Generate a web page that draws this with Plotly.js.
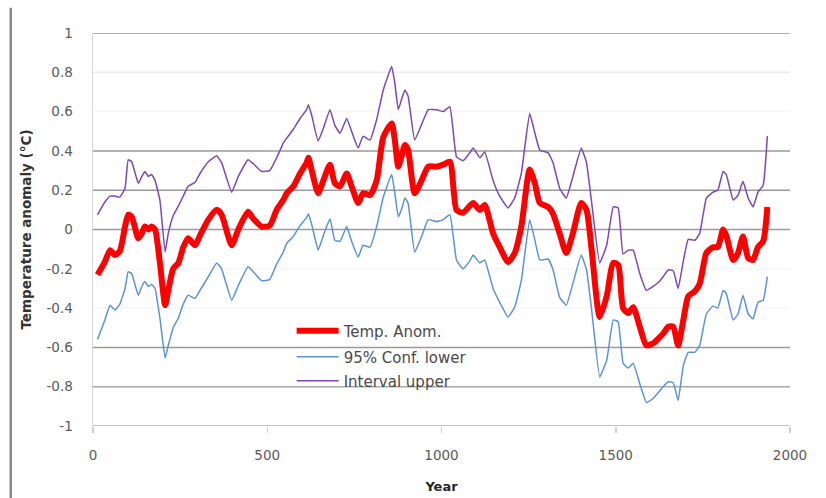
<!DOCTYPE html>
<html>
<head>
<meta charset="utf-8">
<script src="https://cdn.plot.ly/plotly-3.0.1.min.js"></script>
<style>html,body{margin:0;padding:0;background:#fff;}#chart{width:826px;height:498px;}</style>
</head>
<body>
<div id="chart"></div>
<script>
// ---- data ----
const years = [13,34,49,63,77,92,101,111,130,140,149,159,168,178,192,207,216,230,245,259,273,293,307,331,355,369,398,417,445,460,484,507,527,546,556,575,594,613,618,627,646,661,680,694,709,728,742,761,775,795,814,833,857,866,876,885,895,904,923,943,962,986,1005,1024,1043,1062,1081,1091,1110,1124,1148,1167,1191,1210,1229,1253,1268,1282,1306,1320,1339,1358,1377,1401,1416,1430,1454,1474,1493,1507,1521,1536,1550,1569,1588,1607,1622,1636,1651,1665,1679,1694,1708,1727,1741,1760,1779,1793,1808,1817,1837,1851,1865,1880,1894,1908,1923,1935];

const tempAnom = [-0.23,-0.165,-0.105,-0.13,-0.11,0.015,0.075,0.065,-0.045,-0.02,0.015,0.0,0.015,0.0,-0.17,-0.385,-0.31,-0.2,-0.17,-0.09,-0.045,-0.08,-0.03,0.05,0.1,0.075,-0.08,0.0,0.09,0.055,0.015,0.02,0.1,0.15,0.185,0.22,0.285,0.34,0.365,0.305,0.185,0.25,0.33,0.235,0.22,0.285,0.22,0.135,0.185,0.175,0.25,0.47,0.54,0.455,0.32,0.37,0.43,0.405,0.185,0.25,0.32,0.32,0.33,0.345,0.1,0.085,0.12,0.135,0.1,0.125,-0.02,-0.09,-0.165,-0.12,0.015,0.305,0.235,0.135,0.115,0.08,-0.02,-0.12,-0.02,0.135,0.1,-0.09,-0.445,-0.34,-0.17,-0.18,-0.4,-0.425,-0.395,-0.495,-0.59,-0.58,-0.555,-0.53,-0.495,-0.495,-0.59,-0.46,-0.34,-0.315,-0.275,-0.12,-0.09,-0.09,0.0,-0.03,-0.155,-0.12,-0.035,-0.145,-0.155,-0.09,-0.06,0.115];

const confLower = [-0.56,-0.46,-0.385,-0.41,-0.38,-0.3,-0.215,-0.225,-0.335,-0.29,-0.265,-0.29,-0.28,-0.3,-0.45,-0.655,-0.59,-0.5,-0.45,-0.38,-0.335,-0.35,-0.31,-0.24,-0.17,-0.2,-0.36,-0.285,-0.19,-0.215,-0.26,-0.255,-0.175,-0.115,-0.07,-0.035,0.02,0.06,0.08,0.03,-0.105,-0.03,0.055,-0.055,-0.06,0.015,-0.06,-0.14,-0.08,-0.09,0.015,0.165,0.28,0.185,0.065,0.1,0.16,0.135,-0.115,-0.035,0.05,0.04,0.05,0.075,-0.155,-0.2,-0.16,-0.13,-0.17,-0.155,-0.3,-0.37,-0.445,-0.395,-0.26,0.05,-0.055,-0.155,-0.15,-0.205,-0.345,-0.385,-0.275,-0.13,-0.205,-0.395,-0.75,-0.665,-0.46,-0.47,-0.68,-0.705,-0.68,-0.785,-0.88,-0.86,-0.83,-0.8,-0.775,-0.78,-0.87,-0.69,-0.625,-0.625,-0.59,-0.43,-0.39,-0.4,-0.31,-0.325,-0.46,-0.43,-0.335,-0.43,-0.455,-0.37,-0.36,-0.24];

const intervalUpper = [0.075,0.14,0.17,0.17,0.165,0.21,0.355,0.345,0.235,0.27,0.295,0.27,0.28,0.25,0.15,-0.115,-0.02,0.07,0.12,0.17,0.22,0.24,0.285,0.345,0.375,0.34,0.19,0.27,0.355,0.335,0.295,0.3,0.365,0.44,0.465,0.51,0.565,0.61,0.635,0.585,0.45,0.515,0.61,0.53,0.49,0.565,0.5,0.415,0.475,0.455,0.56,0.71,0.83,0.745,0.61,0.66,0.71,0.68,0.455,0.535,0.61,0.61,0.6,0.625,0.37,0.35,0.39,0.415,0.365,0.395,0.25,0.17,0.11,0.16,0.285,0.59,0.49,0.405,0.39,0.34,0.21,0.16,0.27,0.415,0.34,0.15,-0.17,-0.08,0.115,0.11,-0.125,-0.105,-0.105,-0.225,-0.31,-0.29,-0.27,-0.24,-0.205,-0.21,-0.3,-0.16,-0.05,-0.055,-0.02,0.16,0.19,0.2,0.295,0.28,0.15,0.175,0.245,0.16,0.115,0.19,0.225,0.475];

const seriesNames = ["Temp. Anom.", "95% Conf. lower", "Interval upper"];
const xTickVals = [0, 500, 1000, 1500, 2000];
const xTickText = ["0", "500", "1000", "1500", "2000"];
const yTickVals = [1, 0.8, 0.6, 0.4, 0.2, 0, -0.2, -0.4, -0.6, -0.8, -1];
const yTickText = ["1", "0.8", "0.6", "0.4", "0.2", "0", "-0.2", "-0.4", "-0.6", "-0.8", "-1"];
const xTitle = "Year";
const yTitle = "Temperature anomaly (°C)";

// ---- styles ----
const FONT = "DejaVu Sans, Liberation Sans, sans-serif";
// gridline tints per tick (the reference shows some lines faded)
const gridTint = {"1":"#9a9a9a","0.8":"#ececec","0.6":"#f6f6f6","0.4":"#9a9a9a","0.2":"#9a9a9a","0":"#9a9a9a","-0.2":"#f6f6f6","-0.4":"#f6f6f6","-0.6":"#9a9a9a","-0.8":"#a8a8a8","-1":"#b0b0b0"};

const traces = [
  {x: years, y: tempAnom, name: seriesNames[0], type: "scatter", mode: "lines",
   line: {color: "#ff0000", width: 6, shape: "spline", smoothing: 0.6}, legend: "legend"},
  {x: years, y: confLower, name: seriesNames[1], type: "scatter", mode: "lines",
   line: {color: "#5b93d8", width: 1.5, shape: "spline", smoothing: 0.35}, legend: "legend2"},
  {x: years, y: intervalUpper, name: seriesNames[2], type: "scatter", mode: "lines",
   line: {color: "#7a48b8", width: 1.5, shape: "spline", smoothing: 0.35}, legend: "legend3"}
];

const shapes = yTickVals.map(v => ({
  type: "line", xref: "paper", yref: "y", x0: 0, x1: 1, y0: v, y1: v,
  line: {color: gridTint[String(v)], width: 1.5}, layer: "below"
}));
// outer frame line on the left of the picture
shapes.push({type: "line", xref: "paper", yref: "paper", x0: -0.118, x1: -0.118, y0: 1.064, y1: -0.19,
  line: {color: "#8a8a8a", width: 2.5}});

const legendBase = {xanchor: "left", yanchor: "middle", bgcolor: "rgba(0,0,0,0)", itemwidth: 42,
  font: {family: FONT, size: 15, color: "#4a4a4a"}, borderwidth: 0};

const layout = {
  width: 826, height: 498,
  margin: {l: 93, r: 36, t: 33, b: 72},
  paper_bgcolor: "#ffffff", plot_bgcolor: "#ffffff",
  font: {family: FONT, size: 13, color: "#595959"},
  xaxis: {
    range: [0, 2000], tickvals: xTickVals, ticktext: xTickText,
    showgrid: false, zeroline: false, showline: false,
    ticks: "outside", ticklen: 6, tickcolor: "#cfcfcf", tickwidth: 1.5,
    ticklabelstandoff: 11,
    tickfont: {family: FONT, size: 13.5, color: "#595959"},
    title: {text: xTitle, font: {family: FONT, size: 13, color: "#262626", weight: "bold"}, standoff: 19},
    fixedrange: true
  },
  yaxis: {
    range: [-1, 1], tickvals: yTickVals, ticktext: yTickText,
    showgrid: false, zeroline: false,
    showline: true, linecolor: "#d6d6d6", linewidth: 1.5,
    ticks: "", ticklabelstandoff: 16,
    tickfont: {family: FONT, size: 13.5, color: "#595959"},
    title: {text: yTitle, font: {family: FONT, size: 13.5, color: "#333333", weight: "bold"}, standoff: 11},
    fixedrange: true
  },
  shapes: shapes,
  showlegend: true,
  legend: Object.assign({x: 0.285, y: 0.2417}, legendBase),
  legend2: Object.assign({x: 0.285, y: 0.1756}, legendBase),
  legend3: Object.assign({x: 0.285, y: 0.1145}, legendBase)
};

Plotly.newPlot("chart", traces, layout, {displayModeBar: false, staticPlot: true});
</script>
</body>
</html>
